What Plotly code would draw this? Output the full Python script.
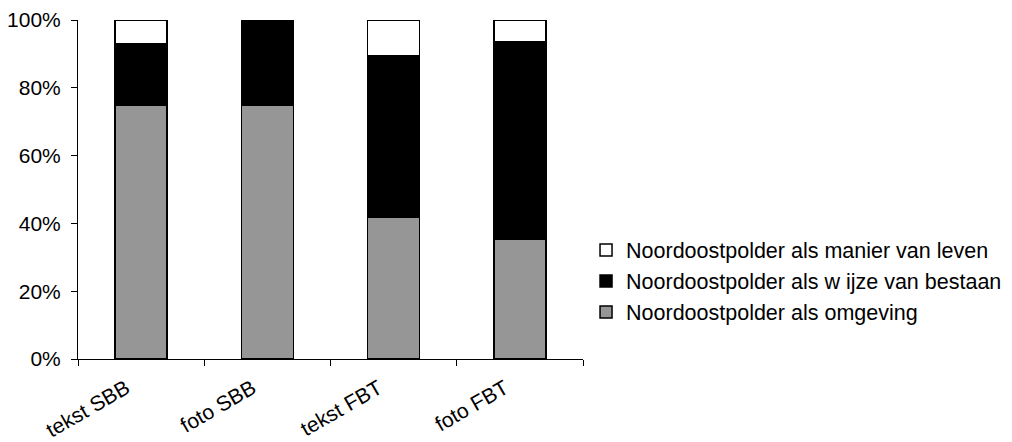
import plotly.graph_objects as go

categories = ["tekst SBB", "foto SBB", "tekst FBT", "foto FBT"]
omgeving = [75.0, 75.0, 41.7, 35.4]
wijze = [17.9, 25.0, 47.9, 58.2]
manier = [7.1, 0.0, 10.4, 6.4]

series_names = [
    "Noordoostpolder als omgeving",
    "Noordoostpolder als w ijze van bestaan",
    "Noordoostpolder als manier van leven",
]
colors = ["#969696", "#000000", "#FFFFFF"]
ranks = [3, 2, 1]

fig = go.Figure()
for name, vals, col, rk in zip(series_names, [omgeving, wijze, manier], colors, ranks):
    fig.add_trace(go.Bar(
        x=categories, y=vals, name=name, legendrank=rk,
        marker=dict(color=col, line=dict(color="#000000", width=1.5)),
        width=0.41,
    ))

font = dict(family="Liberation Sans, Arial, sans-serif", size=21.5, color="#000000")
tickfont = dict(family="Liberation Sans, Arial, sans-serif", size=21, color="#000000")

fig.update_layout(
    barmode="stack",
    width=1012, height=442,
    margin=dict(l=70, r=437, t=12, b=91, autoexpand=False),
    paper_bgcolor="white", plot_bgcolor="white",
    font=font,
    showlegend=True,
    legend=dict(
        traceorder="normal",
        x=1.006, xanchor="left",
        y=0.23, yanchor="middle",
        font=font,
        bgcolor="rgba(0,0,0,0)",
    ),
    xaxis=dict(
        range=[-0.5, 3.5], automargin=False,
        showline=True, linecolor="#000000", linewidth=1,
        ticks="outside", tickson="boundaries", ticklen=6, tickcolor="#000000",
        tickangle=-30, showgrid=False, zeroline=False,
        ticklabelshift=-15, ticklabelstandoff=8, tickfont=tickfont,
    ),
    yaxis=dict(
        range=[0, 100], dtick=20, ticksuffix="%", automargin=False,
        showline=True, linecolor="#000000", linewidth=1,
        ticks="outside", ticklen=6, tickcolor="#000000",
        showgrid=False, zeroline=False, ticklabelstandoff=6, tickfont=tickfont,
    ),
)

fig.write_html("out.html")
